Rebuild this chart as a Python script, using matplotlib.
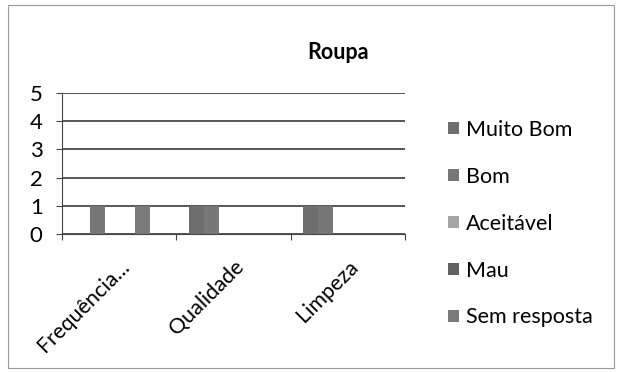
import numpy as np
import matplotlib.pyplot as plt
from matplotlib.patches import Rectangle

plt.rcParams['font.family'] = ['Lato', 'DejaVu Sans']

categories = ['Frequência...', 'Qualidade', 'Limpeza']
series = ['Muito Bom', 'Bom', 'Aceitável', 'Mau', 'Sem resposta']
values = {
    'Muito Bom':    [0, 1, 1],
    'Bom':          [1, 1, 1],
    'Aceitável':    [0, 0, 0],
    'Mau':          [0, 0, 0],
    'Sem resposta': [1, 0, 0],
}
colors = ['#6e6e6e', '#777777', '#a5a5a5', '#626262', '#7a7a7a']

fig = plt.figure(figsize=(6.21, 3.72), dpi=100)
ax = fig.add_axes([0.1, 0.371, 0.552, 0.379])

x = np.arange(len(categories))
w = 0.133
shift = -0.06
for i, s in enumerate(series):
    ax.bar(x + shift + (i - 2) * w, values[s], width=w, color=colors[i],
           label=s, zorder=3)

ax.set_xlim(-0.5, len(categories) - 0.5)
ax.set_ylim(0, 5)
ax.set_yticks(range(6))
ax.yaxis.grid(True, color='#2a2a2a', linewidth=1.1, zorder=0)
for sp in ['top', 'right']:
    ax.spines[sp].set_visible(False)
ax.spines['left'].set_color('#444444')
ax.spines['bottom'].set_color('#444444')
ax.tick_params(axis='y', labelsize=16, length=4, color='#444444', pad=10)
ax.set_xticks(np.arange(-0.5, len(categories)), minor=False)
ax.set_xticklabels([])
ax.set_xticks(x, minor=True)
ax.set_xticklabels(categories, minor=True, rotation=45, ha='right',
                   rotation_mode='anchor', fontsize=15.5)
ax.tick_params(axis='x', which='minor', length=0, pad=16)
ax.tick_params(axis='x', which='major', length=4, color='#444444')

fig.text(0.545, 0.86, 'Roupa', ha='center', va='center', fontsize=15.5,
         fontweight='bold')

leg = fig.legend(loc='upper left', bbox_to_anchor=(0.69, 0.73), frameon=False,
                 fontsize=15.5, handlelength=0.5, handleheight=0.5,
                 handletextpad=0.35, labelspacing=1.25)

fig.patches.append(Rectangle((0.013, 0.012), 0.975, 0.975,
                             transform=fig.transFigure, fill=False,
                             edgecolor='#999999', linewidth=0.8))

fig.savefig('out.png', dpi=100)
